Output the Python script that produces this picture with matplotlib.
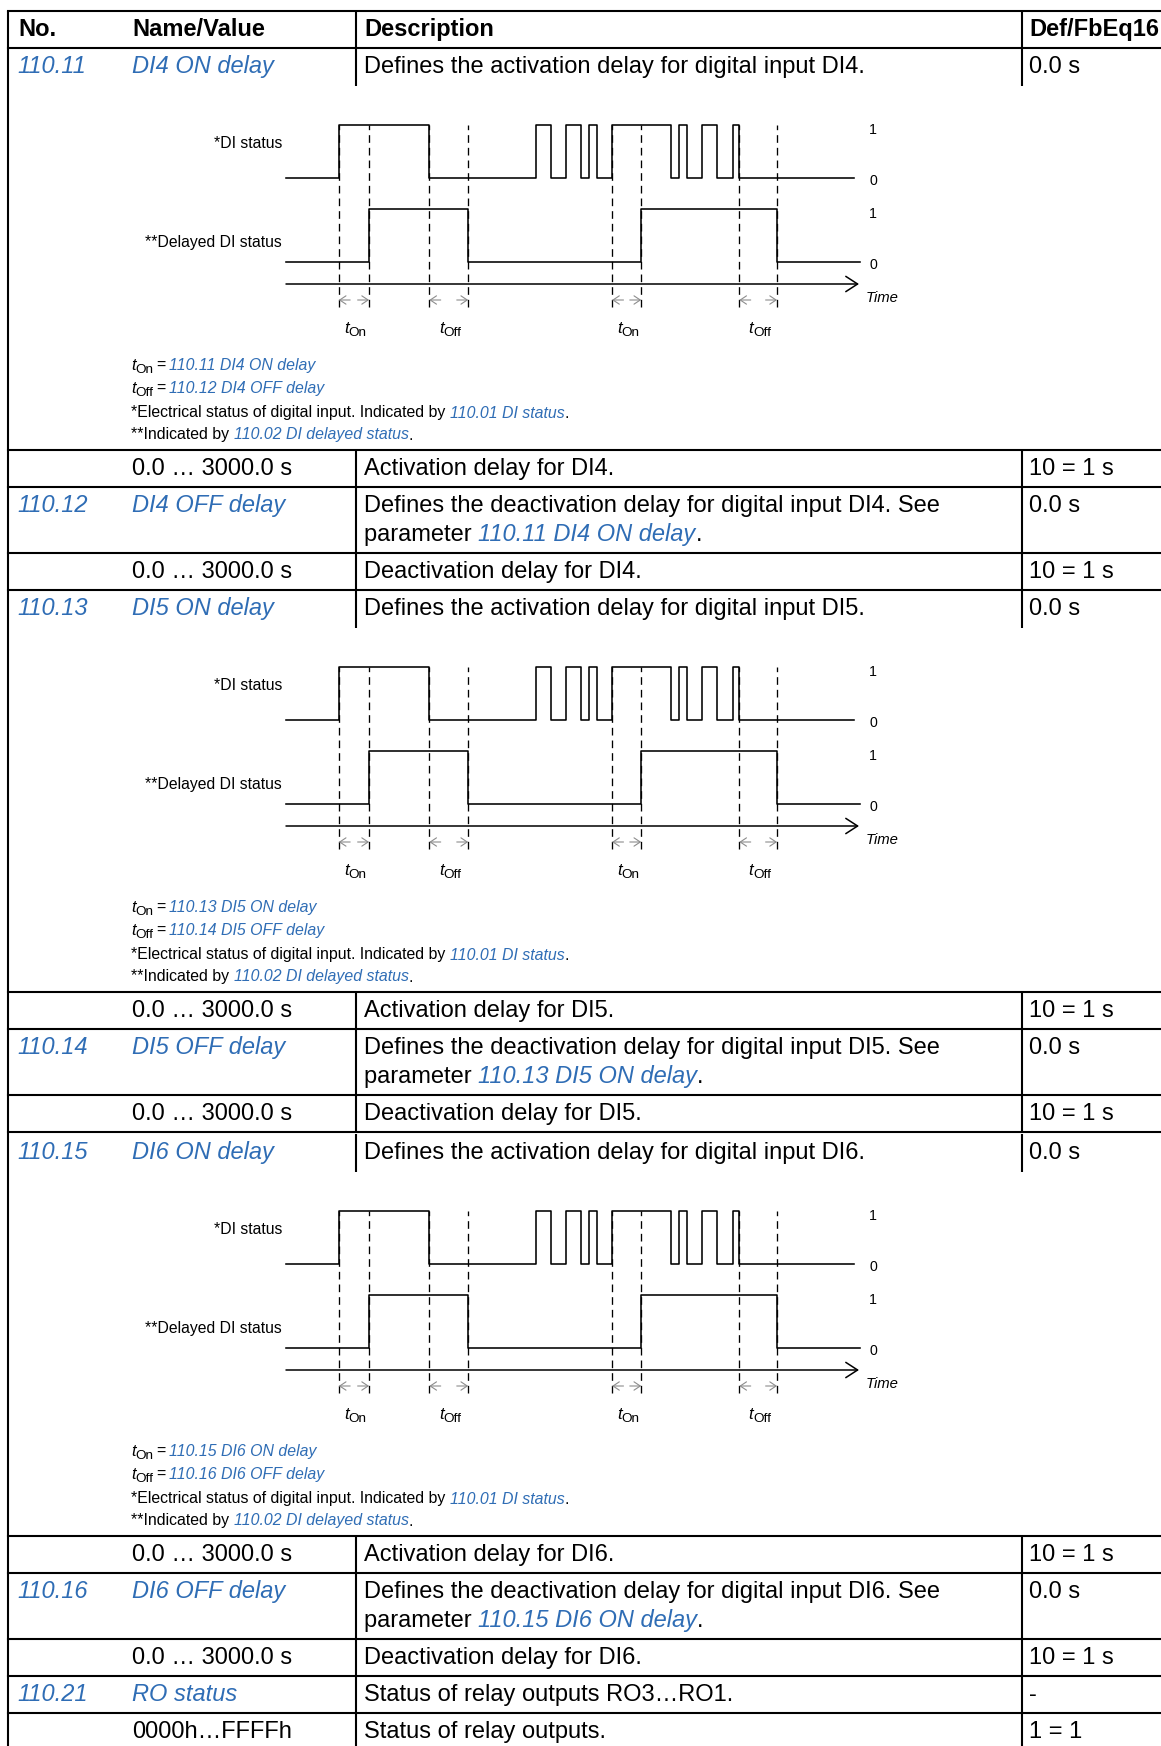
import matplotlib
matplotlib.use('Agg')
import matplotlib.pyplot as plt

W, H = 1161, 1746
FONT = 'Liberation Sans'
BLUE = '#2f6db5'
GREY = '#8c8c8c'

# ---------------- data ----------------
header = ['No.', 'Name/Value', 'Description', 'Def/FbEq16']
param_ids = ['110.11', '110.12', '110.13', '110.14', '110.15', '110.16', '110.21']
param_names = ['DI4 ON delay', 'DI4 OFF delay', 'DI5 ON delay', 'DI5 OFF delay',
               'DI6 ON delay', 'DI6 OFF delay', 'RO status']
param_desc = ['Defines the activation delay for digital input DI4.',
              'Defines the deactivation delay for digital input DI4. See',
              'Defines the activation delay for digital input DI5.',
              'Defines the deactivation delay for digital input DI5. See',
              'Defines the activation delay for digital input DI6.',
              'Defines the deactivation delay for digital input DI6. See',
              'Status of relay outputs RO3…RO1.']
param_defaults = ['0.0 s', '0.0 s', '0.0 s', '0.0 s', '0.0 s', '0.0 s', '-']
value_ranges = ['0.0 … 3000.0 s', '0.0 … 3000.0 s', '0.0 … 3000.0 s', '0.0 … 3000.0 s',
                '0.0 … 3000.0 s', '0.0 … 3000.0 s', '0000h…FFFFh']
value_desc = ['Activation delay for DI4.', 'Deactivation delay for DI4.',
              'Activation delay for DI5.', 'Deactivation delay for DI5.',
              'Activation delay for DI6.', 'Deactivation delay for DI6.',
              'Status of relay outputs.']
value_fbeq = ['10 = 1 s', '10 = 1 s', '10 = 1 s', '10 = 1 s', '10 = 1 s', '10 = 1 s', '1 = 1']
status_links = ['110.01 DI status', '110.02 DI delayed status']
diagram_labels = ['*DI status', '**Delayed DI status']

# timing diagram, time units (axis runs 0..100)
di_edges = [9.2, 25.0, 43.6, 46.3, 48.9, 51.5, 52.9, 54.3, 56.9,
            67.2, 68.6, 70.0, 72.6, 75.2, 78.0, 79.1]
di_end = 99.1
delayed_edges = [14.5, 31.8, 62.0, 85.7]
delayed_end = 100.2
delay_windows = [(9.2, 14.5, 'On'), (25.0, 31.8, 'Off'), (56.9, 62.0, 'On'), (79.1, 85.7, 'Off')]
time_end = 100.0

# ---------------- layout ----------------
TS = 17.0      # table font (pt)
FS = 11.4      # footnote font
DS = 11.3      # diagram label font
NS = 10.2      # 1/0 level labels
TIME_S = 10.7
T_S = 12.2
SUB_S = 9.7
LW = 1.5

X_LEFT, X_NO, X_NAME = 8, 17, 132
X_DL, X_D = 356, 364
X_FL, X_F = 1022, 1029
X_FOOT = 131
block_tops = [48, 590, 1134]

fig = plt.figure(figsize=(W / 100, H / 100), dpi=100)
ax = fig.add_axes([0, 0, 1, 1])
ax.set_xlim(0, W)
ax.set_ylim(H, 0)
ax.axis('off')
renderer = fig.canvas.get_renderer()


def tw(s, props):
    t = ax.text(0, 0, 'x' + s + 'x', **props)
    w1 = t.get_window_extent(renderer).width
    t.remove()
    t = ax.text(0, 0, 'xx', **props)
    w2 = t.get_window_extent(renderer).width
    t.remove()
    return w1 - w2


def runs(x, y, segs, ha='left'):
    items = []
    cx = x
    for seg in segs:
        if isinstance(seg, (int, float)):
            cx += seg
            continue
        s, kw = seg
        kw = dict(kw)
        dy = kw.pop('dy', 0)
        props = dict(family=FONT, va='baseline', ha='left')
        props.update(kw)
        w = tw(s, props)
        items.append(ax.text(cx, y + dy, s, **props))
        cx += w
    total = cx - x
    shift = 0
    if ha == 'center':
        shift = total / 2
    elif ha == 'right':
        shift = total
    if shift:
        for t in items:
            px, py = t.get_position()
            t.set_x(px - shift)
    return items


def hl(y):
    ax.plot([X_LEFT, W], [y, y], color='k', lw=LW, solid_capstyle='projecting')


def vl(x, y0, y1):
    ax.plot([x, x], [y0, y1], color='k', lw=LW, solid_capstyle='butt')


N = dict(size=TS, color='black')
Bd = dict(size=TS, color='black', weight='bold')
Lk = dict(size=TS, color=BLUE, style='italic')
FN = dict(size=FS, color='black')
FL = dict(size=FS, color=BLUE, style='italic')


def param_row(i, top, line2=None):
    b = top + 25
    runs(X_NO, b, [(param_ids[i], Lk)])
    runs(X_NAME, b, [(param_names[i], Lk)])
    runs(X_D, b, [(param_desc[i], N)])
    if line2 is not None:
        runs(X_D, b + 29, line2)
    runs(X_F, b, [(param_defaults[i], N)])


def value_row(i, top):
    b = top + 25
    runs(X_NAME, b, [(value_ranges[i], N)])
    runs(X_D, b, [(value_desc[i], N)])
    runs(X_F, b, [(value_fbeq[i], N)])


# header
hl(11)
hl(48)
vl(X_LEFT, 11, H)
vl(X_DL, 11, 48)
vl(X_FL, 11, 48)
for x, s in zip([X_NO + 1, X_NAME, X_D, X_F], header):
    runs(x, 36, [(s, Bd)])

# diagram vertical levels (units of 53.5 px, delayed-low = 0)
U = 53.5
DI_LOW = (214 - 130) / U
DI_HIGH = (214 - 77) / U
AXIS_Y = -(236 - 214) / U
ARROW_Y = -(252 - 214) / U
DASH_BOT = -(259 - 214) / U
Y_TOP = (214 - 60) / U
Y_BOT = -(320 - 214) / U
DX0, DX1 = 286, 859


def step_xy(edges, end, low, high):
    xs = [0.0] + list(edges) + [end]
    ys = [low]
    for k in range(len(edges)):
        ys.append(high if k % 2 == 0 else low)
    ys.append(ys[-1])
    return xs, ys


def diagram(T):
    dax = fig.add_axes([DX0 / W, 1 - (T + 320) / H, (DX1 - DX0) / W, 260 / H])
    dax.set_xlim(0, time_end)
    dax.set_ylim(Y_BOT, Y_TOP)
    dax.axis('off')
    dax.patch.set_alpha(0)
    xs, ys = step_xy(di_edges, di_end, DI_LOW, DI_HIGH)
    dax.plot(xs, ys, drawstyle='steps-post', color='k', lw=1.15, clip_on=False)
    xs, ys = step_xy(delayed_edges, delayed_end, 0.0, 1.0)
    dax.plot(xs, ys, drawstyle='steps-post', color='k', lw=1.15, clip_on=False)
    dax.annotate('', xy=(time_end, AXIS_Y), xytext=(0, AXIS_Y),
                 arrowprops=dict(arrowstyle='->,head_length=0.85,head_width=0.55',
                                 lw=1.1, color='k', shrinkA=0, shrinkB=0))
    for a, b, kind in delay_windows:
        for x in (a, b):
            dax.plot([x, x], [DASH_BOT, DI_HIGH], color='k', lw=0.95,
                     dashes=(5.8, 3.8), clip_on=False)
        dax.annotate('', xy=(a, ARROW_Y), xytext=(a + 2.0, ARROW_Y),
                     arrowprops=dict(arrowstyle='->,head_length=0.45,head_width=0.3',
                                     lw=0.8, color=GREY, shrinkA=0, shrinkB=0))
        dax.annotate('', xy=(b, ARROW_Y), xytext=(b - 2.0, ARROW_Y),
                     arrowprops=dict(arrowstyle='->,head_length=0.45,head_width=0.3',
                                     lw=0.8, color=GREY, shrinkA=0, shrinkB=0))
        disp = dax.transData.transform(((a + b) / 2, 0))
        mx = ax.transData.inverted().transform(disp)[0]
        runs(mx + 1.5, T + 285,
             [('t', dict(size=T_S, style='italic')), (kind, dict(size=SUB_S, dy=3))],
             ha='center')
    # labels
    runs(282, T + 100, [(diagram_labels[0], dict(size=DS))], ha='right')
    runs(282, T + 199, [(diagram_labels[1], dict(size=DS))], ha='right')
    for yb, s in zip([T + 86, T + 137, T + 170, T + 221], ['1', '0', '1', '0']):
        runs(873, yb, [(s, dict(size=NS))], ha='center')
    runs(866, T + 254, [('Time', dict(size=TIME_S, style='italic'))])


for bi, T in enumerate(block_tops):
    i_on = 2 * bi
    i_off = 2 * bi + 1
    # first parameter row with diagram
    vl(X_DL, T, T + 38)
    vl(X_FL, T, T + 38)
    param_row(i_on, T)
    diagram(T)
    # footnotes
    runs(X_FOOT, T + 322, [('t', dict(size=FS + 0.4, style='italic')), ('On', dict(size=SUB_S, dy=3)),
                           3, ('=', FN), 3, (param_ids[i_on] + ' ' + param_names[i_on], FL)])
    runs(X_FOOT, T + 345, [('t', dict(size=FS + 0.4, style='italic')), ('Off', dict(size=SUB_S, dy=3)),
                           3, ('=', FN), 3, (param_ids[i_off] + ' ' + param_names[i_off], FL)])
    runs(X_FOOT, T + 369.5, [('*Electrical status of digital input. Indicated by ', FN),
                             (status_links[0], FL), ('.', FN)])
    runs(X_FOOT, T + 391.5, [('**Indicated by ', FN), (status_links[1], FL), ('.', FN)])
    hl(T + 402)
    # value row
    vl(X_DL, T + 402, T + 439)
    vl(X_FL, T + 402, T + 439)
    value_row(i_on, T + 402)
    hl(T + 439)
    # second parameter row (two lines)
    vl(X_DL, T + 439, T + 505)
    vl(X_FL, T + 439, T + 505)
    param_row(i_off, T + 439,
              line2=[('parameter ', N), (param_ids[i_on] + ' ' + param_names[i_on], Lk), ('.', N)])
    hl(T + 505)
    # value row
    vl(X_DL, T + 505, T + 542)
    vl(X_FL, T + 505, T + 542)
    value_row(i_off, T + 505)
    hl(T + 542)

# final parameter
T4 = block_tops[-1] + 542
vl(X_DL, T4, T4 + 37)
vl(X_FL, T4, T4 + 37)
param_row(6, T4)
hl(T4 + 37)
vl(X_DL, T4 + 37, H)
vl(X_FL, T4 + 37, H)
value_row(6, T4 + 37)

fig.savefig('out.png', dpi=100)
